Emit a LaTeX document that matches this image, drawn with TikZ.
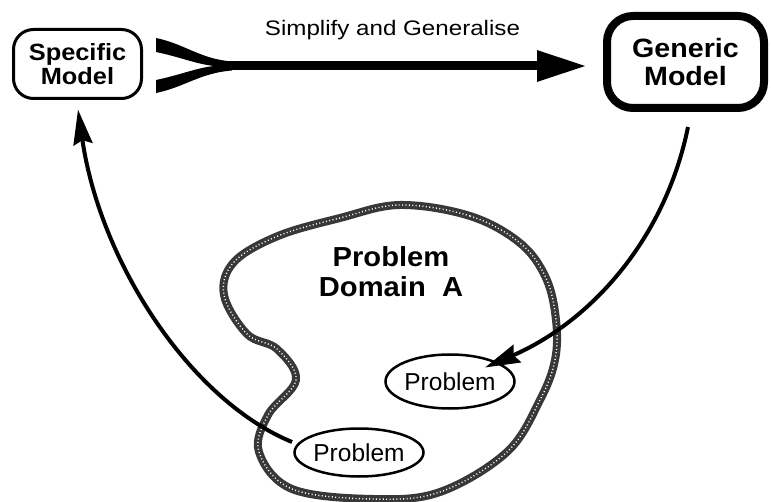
\documentclass[tikz,border=0pt]{standalone}
\usepackage{fontspec}
\setmainfont{Liberation Sans}
\newfontfamily\labfont[FakeStretch=1.15]{Liberation Sans}
\newfontfamily\domfont[FakeStretch=1.06]{Liberation Sans}
\newfontfamily\modfont[FakeStretch=1.08]{Liberation Sans}
\usetikzlibrary{arrows.meta,calc,shapes.geometric}
\tikzset{
  modelbox/.style={draw, rounded corners=#1, inner sep=0pt, align=center},
  probnode/.style={draw, ellipse, line width=2.5pt, inner sep=0pt, font=\fontsize{24.5}{27}\selectfont},
  curvarrow/.style={line width=4pt, -{Stealth[length=35pt,width=19pt,inset=4pt]}},
  domainline/.style={line width=8pt, black!78},
  domaindots/.style={line width=1.4pt, white, dash pattern=on 1pt off 2.4pt},
}
\begin{document}
\begin{tikzpicture}[x=1pt,y=-1pt]
\useasboundingbox (0,0) rectangle (771,502);
\fill[white] (0,0) rectangle (771,502);

% problem domain outline
\def\blobpath{plot[smooth cycle, tension=0.6] coordinates {(400,205) (470,216) (520,243) (546,278) (556,320) (555,360) (540,400) (507,452) (440,492) (373,499) (292,489) (259,452) (268,415) (296,380) (277,349) (247,334) (224,295) (234,262) (278,236) (340,218)}}
\draw[domainline] \blobpath;
\draw[domaindots] \blobpath;

\node[font=\domfont\fontsize{27.5}{30}\selectfont\bfseries, align=center] (dom) at (391,272) {Problem\\Domain\ \ A};

% models
\node[modelbox=20pt, line width=3pt, minimum width=128pt, minimum height=69pt, font=\modfont\fontsize{23.5}{24.5}\selectfont\bfseries] (spec) at (77.5,64) {Specific\\Model};
\node[modelbox=26pt, line width=8pt, minimum width=157pt, minimum height=92pt, font=\modfont\fontsize{26.5}{28.5}\selectfont\bfseries] (gen) at (685.5,62) {Generic\\Model};

% problems
\node[probnode, minimum width=127pt, minimum height=54pt] (p1) at (450,381.5) {Problem};
\node[probnode, minimum width=125pt, minimum height=48pt] (p2) at (359,452.5) {Problem};

% main arrow with forked tail
\coordinate (fk) at (222,66);
\fill (156,38) .. controls (185,44) and (200,59) .. (232,61.5) -- (232,70.5) .. controls (200,73) and (185,87) .. (156,93) -- (156,80) .. controls (180,75) and (196,68) .. (214,66) .. controls (196,64) and (180,57) .. (156,52) -- cycle;
\draw[line width=9pt, -{Triangle[length=50pt,width=29pt]}] (fk) -- ($(gen.west)+(-16,4)$);
\node[font=\labfont\fontsize{21}{24}\selectfont, anchor=base] (lab) at (392.5,36) {Simplify and Generalise};

% curved arrows
\draw[curvarrow] ($(gen.south)+(2.5,15)$) .. controls (665,240) and (590,322) .. ($(p1.center)+(35,-14)$);
\draw[curvarrow] ($(p2.center)+(-67,-10.5)$) .. controls (190,400) and (100,262) .. ($(spec.south)+(0.5,9.5)$);
\end{tikzpicture}
\end{document}
